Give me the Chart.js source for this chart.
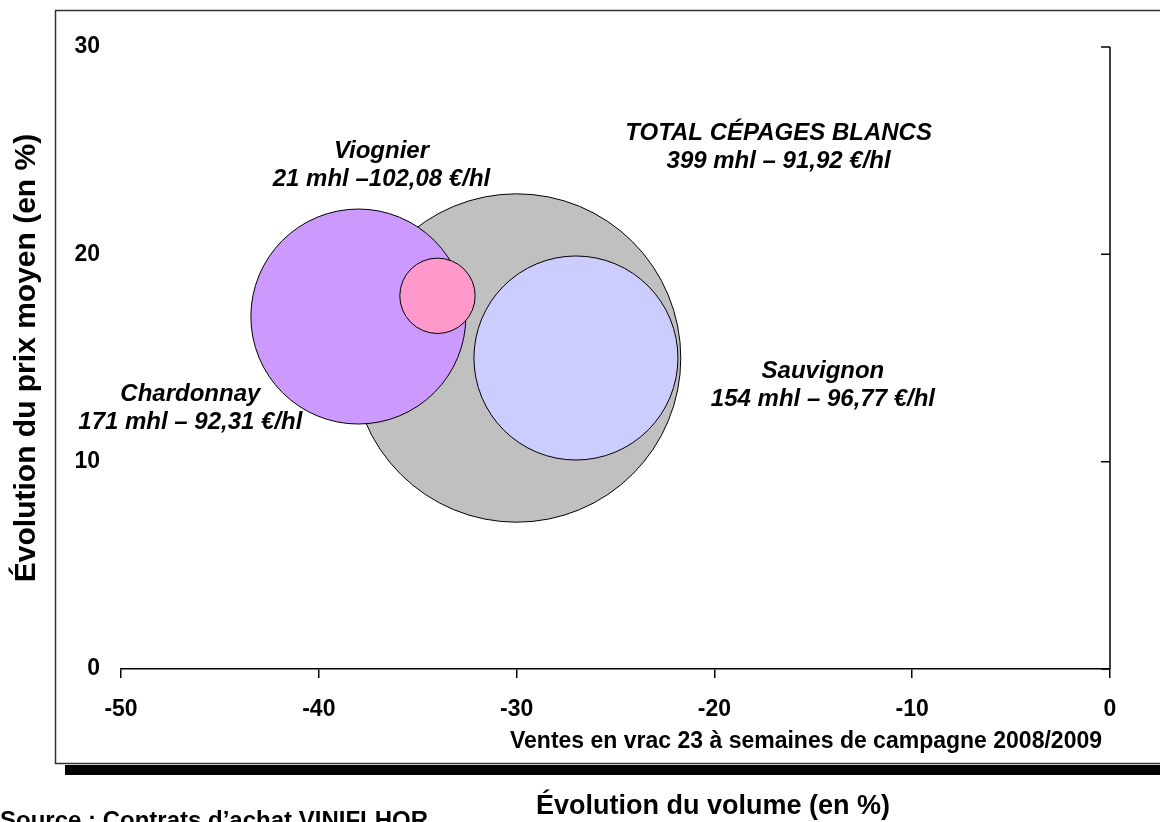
<!DOCTYPE html>
<html lang="fr">
<head>
<meta charset="utf-8">
<script src="https://cdn.jsdelivr.net/npm/chart.js@4.4.0/dist/chart.umd.min.js"></script>
<style>
  html, body { margin: 0; padding: 0; background: #fff; }
  #wrap { width: 1160px; height: 822px; }
</style>
</head>
<body>
<div id="wrap"><canvas id="bubbleChart" width="1160" height="822"></canvas></div>
<script>
// Données
const cepages = ['TOTAL CÉPAGES BLANCS', 'Chardonnay', 'Sauvignon', 'Viognier'];
const evolVolume = [-30, -38, -27, -34];   // axe X (%)
const evolPrix = [15, 17, 15, 18];          // axe Y (%)
const volumesMhl = [399, 171, 154, 21];
const detailLabels = ['399 mhl – 91,92 €/hl', '171 mhl – 92,31 €/hl', '154 mhl – 96,77 €/hl', '21 mhl –102,08 €/hl'];
const xTicks = [-50, -40, -30, -20, -10, 0];
const yTicks = [0, 10, 20, 30];

const FONT = "'Liberation Sans', Arial, sans-serif";
const BUBBLE_K = 8.22; // rayon en px = K * racine(volume)
const colors = ['#c0c0c0', '#cc99ff', '#ccccff', '#ff99cc'];
// position des étiquettes (décalage en px par rapport au centre de la bulle)
const labelOffsets = [[262, -211], [-168, 92], [247, 27], [-56, -130]];

const points = cepages.map((c, i) => ({
    x: evolVolume[i],
    y: evolPrix[i],
    r: BUBBLE_K * Math.sqrt(volumesMhl[i])
}));

const decorPlugin = {
    id: 'decor',
    beforeDraw(chart) {
        const ctx = chart.ctx;
        ctx.save();
        // cadre + ombre
        ctx.fillStyle = '#000';
        ctx.fillRect(65, 765, 1100, 10);
        ctx.strokeStyle = '#333';
        ctx.lineWidth = 1.5;
        ctx.strokeRect(55.5, 10.5, 1200, 753);
        ctx.restore();
    },
    afterDraw(chart) {
        const ctx = chart.ctx;
        const x = chart.scales.x, y = chart.scales.y;
        const area = chart.chartArea;
        ctx.save();
        // axe de droite avec graduations intérieures
        ctx.strokeStyle = '#000';
        ctx.lineWidth = 1.5;
        ctx.beginPath();
        ctx.moveTo(area.right, y.getPixelForValue(30));
        ctx.lineTo(area.right, y.getPixelForValue(0));
        yTicks.forEach(v => {
            const py = y.getPixelForValue(v);
            ctx.moveTo(area.right, py);
            ctx.lineTo(area.right - 9, py);
        });
        ctx.stroke();

        // étiquettes des bulles
        ctx.fillStyle = '#000';
        ctx.textAlign = 'center';
        ctx.textBaseline = 'middle';
        ctx.font = 'italic bold 24px ' + FONT;
        cepages.forEach((name, i) => {
            const cx = x.getPixelForValue(evolVolume[i]) + labelOffsets[i][0];
            const cy = y.getPixelForValue(evolPrix[i]) + labelOffsets[i][1];
            ctx.fillText(name, cx, cy - 14);
            ctx.fillText(detailLabels[i], cx, cy + 14);
        });

        // titres
        ctx.font = 'bold 23px ' + FONT;
        ctx.textAlign = 'right';
        ctx.textBaseline = 'alphabetic';
        ctx.fillText('Ventes en vrac 23 à semaines de campagne 2008/2009', 1102, 748);

        ctx.font = 'bold 27px ' + FONT;
        ctx.textAlign = 'center';
        ctx.fillText('Évolution du volume (en %)', 713, 814);

        ctx.save();
        ctx.font = 'bold 30px ' + FONT;
        ctx.translate(27, 358);
        ctx.rotate(-Math.PI / 2);
        ctx.textBaseline = 'middle';
        ctx.fillText('Évolution du prix moyen (en %)', 0, 0);
        ctx.restore();

        ctx.font = 'bold 24px ' + FONT;
        ctx.textAlign = 'left';
        ctx.fillText('Source : Contrats d’achat VINIFLHOR', 0, 828);
        ctx.restore();
    }
};

new Chart(document.getElementById('bubbleChart'), {
    type: 'bubble',
    data: {
        labels: cepages,
        datasets: [{
            data: points,
            backgroundColor: colors,
            borderColor: '#000',
            borderWidth: 1
        }]
    },
    options: {
        responsive: false,
        animation: false,
        events: [],
        layout: { autoPadding: false, padding: { top: 47, right: 50, bottom: 0, left: 0 } },
        plugins: { legend: { display: false }, tooltip: { enabled: false } },
        scales: {
            x: {
                type: 'linear',
                min: -50,
                max: 0,
                afterBuildTicks: s => { s.ticks = xTicks.map(v => ({ value: v })); },
                afterFit: s => { s.height = 153; },
                grid: { drawOnChartArea: false, color: '#000', lineWidth: 1.5, tickLength: 9 },
                border: { color: '#000', width: 1.5 },
                ticks: {
                    color: '#000',
                    padding: 18,
                    font: { family: FONT, size: 23, weight: 'bold' },
                    callback: v => String(v)
                }
            },
            y: {
                type: 'linear',
                min: 0,
                max: 30,
                afterBuildTicks: s => { s.ticks = yTicks.map(v => ({ value: v })); },
                afterFit: s => { s.width = 121; },
                grid: { display: false, drawTicks: false },
                border: { display: false },
                ticks: {
                    color: '#000',
                    padding: 21,
                    font: { family: FONT, size: 23, weight: 'bold' },
                    callback: v => String(v)
                }
            }
        }
    },
    plugins: [decorPlugin]
});
</script>
</body>
</html>
